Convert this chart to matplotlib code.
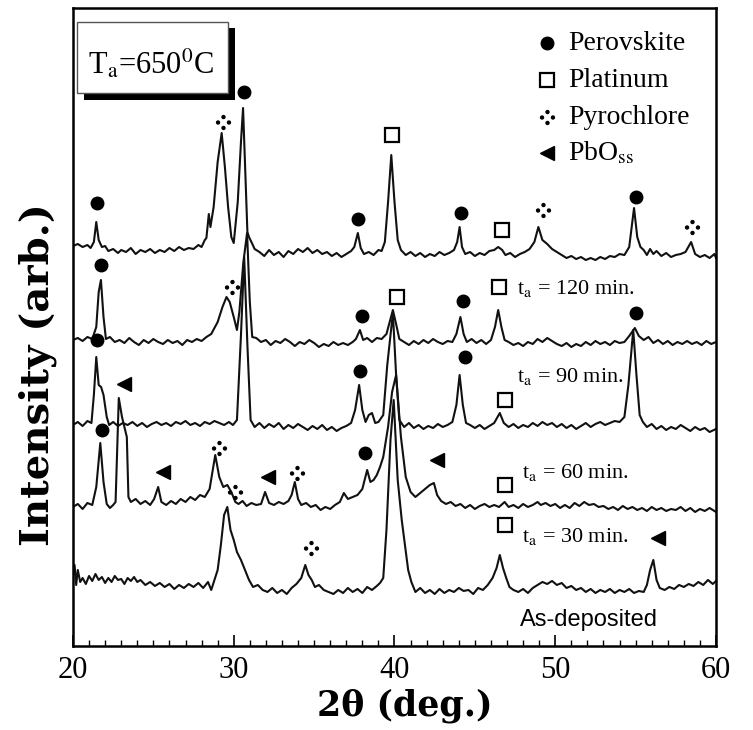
import matplotlib
matplotlib.use("Agg")
import matplotlib.pyplot as plt
from matplotlib.path import Path
from matplotlib.patches import Rectangle
from matplotlib.ticker import MultipleLocator

plt.rcParams["font.family"] = ["Liberation Serif", "DejaVu Serif"]
plt.rcParams["mathtext.fontset"] = "stix"

# XRD traces: (2theta, intensity above own baseline)
trace_120 = [
    (20.0, 6), (20.3, 8), (20.6, 5), (20.9, 7), (21.1, 4), (21.3, 10), (21.45, 30), (21.6, 12),
    (21.8, 5), (22.0, 6), (22.2, 1), (22.5, 3), (22.8, -1), (23.0, 2), (23.3, 0), (23.6, 4),
    (23.9, -2), (24.2, 2), (24.5, 0), (24.8, 3), (25.1, -1), (25.4, 2), (25.7, 0), (26.0, 4),
    (26.3, 1), (26.6, 5), (26.9, 2), (27.2, 4), (27.5, 3), (27.8, 7), (28.0, 5), (28.2, 12),
    (28.3, 14), (28.45, 38), (28.55, 25), (28.75, 45), (29.0, 90), (29.25, 119), (29.45, 85),
    (29.65, 45), (29.85, 15), (30.0, 9), (30.25, 50), (30.45, 110), (30.58, 144), (30.72, 80),
    (30.85, 20), (30.95, 15), (31.1, 10), (31.3, 3), (31.6, 0), (31.9, -4), (32.2, 2), (32.5, -3),
    (32.8, 0), (33.1, -5), (33.4, 1), (33.7, -2), (34.0, 3), (34.3, 0), (34.6, 4), (34.9, -1),
    (35.2, 2), (35.5, -2), (35.8, 0), (36.1, -4), (36.4, -1), (36.7, -5), (37.0, -2), (37.3, 1),
    (37.5, 5), (37.72, 19), (37.9, 4), (38.1, -2), (38.4, 0), (38.7, -3), (39.0, 2), (39.2, 1),
    (39.4, 10), (39.6, 50), (39.8, 97), (40.0, 50), (40.2, 12), (40.4, 2), (40.7, -3), (41.0, 0),
    (41.3, -4), (41.6, -1), (41.9, -5), (42.2, -2), (42.5, -4), (42.8, 0), (43.1, -3), (43.4, -1),
    (43.7, 2), (43.9, 10), (44.05, 25), (44.2, 5), (44.4, -2), (44.7, 0), (45.0, -4), (45.3, -1),
    (45.6, -3), (45.9, 1), (46.2, 2), (46.45, 5), (46.7, 2), (46.9, -3), (47.2, -1), (47.5, -5),
    (47.8, -2), (48.1, 0), (48.4, 3), (48.7, 10), (48.95, 25), (49.2, 12), (49.5, 8), (49.8, 3),
    (50.1, 0), (50.4, -3), (50.7, -6), (51.0, -4), (51.3, -7), (51.6, -5), (51.9, -8), (52.2, -6),
    (52.5, -8), (52.8, -5), (53.1, -7), (53.4, -4), (53.7, -5), (54.0, -2), (54.3, -3), (54.6, 5),
    (54.9, 44), (55.1, 15), (55.3, 5), (55.5, 2), (55.7, -3), (55.9, 3), (56.1, -2), (56.3, 1),
    (56.6, -4), (56.9, -1), (57.2, -5), (57.5, -3), (57.8, -2), (58.1, 0), (58.45, 10), (58.7, -2),
    (59.0, -5), (59.3, -3), (59.6, -6), (59.9, -2), (60.0, -6),
]

trace_90 = [
    (20.0, 2), (20.3, 4), (20.6, 1), (20.9, 5), (21.2, 3), (21.45, 15), (21.6, 50), (21.74, 62),
    (21.9, 25), (22.05, 3), (22.3, 5), (22.6, 0), (22.9, 2), (23.2, -1), (23.5, 4), (23.8, 0),
    (24.1, -3), (24.4, 2), (24.7, -1), (25.0, 3), (25.3, 0), (25.6, -2), (25.9, 2), (26.2, -1),
    (26.5, 1), (26.8, -3), (27.1, 2), (27.4, 0), (27.7, 3), (28.0, 1), (28.3, 5), (28.6, 8),
    (29.0, 20), (29.3, 35), (29.55, 45), (29.75, 40), (30.0, 25), (30.2, 12), (30.35, 30),
    (30.6, 80), (30.83, 109), (31.0, 40), (31.15, 5), (31.4, 4), (31.7, 0), (32.0, 2), (32.3, -3),
    (32.6, 1), (32.9, -1), (33.2, 3), (33.5, 0), (33.8, -4), (34.1, 0), (34.4, -2), (34.7, 2),
    (35.0, -1), (35.3, -5), (35.6, -2), (35.9, -4), (36.2, 0), (36.5, -3), (36.8, -1), (37.1, -3),
    (37.4, 0), (37.6, 3), (37.85, 12), (38.05, 2), (38.3, 4), (38.6, 0), (38.9, 4), (39.2, 3),
    (39.5, 8), (39.7, 20), (39.9, 32), (40.1, 18), (40.3, 3), (40.6, 0), (40.9, -3), (41.2, 1),
    (41.5, -2), (41.8, 2), (42.1, -1), (42.4, 3), (42.7, 0), (43.0, -2), (43.3, 1), (43.6, 0),
    (43.85, 8), (44.1, 25), (44.3, 8), (44.5, 0), (44.8, 3), (45.1, -1), (45.4, 2), (45.7, -2),
    (46.0, 2), (46.25, 15), (46.45, 32), (46.65, 15), (46.85, 2), (47.1, 0), (47.4, -3), (47.7, -1),
    (48.0, -4), (48.3, 0), (48.6, -2), (48.9, 3), (49.2, 0), (49.5, 4), (49.8, 1), (50.1, -2),
    (50.4, -4), (50.7, -1), (51.0, -5), (51.3, -2), (51.6, -4), (51.9, 0), (52.2, -3), (52.5, 1),
    (52.8, -2), (53.1, 0), (53.4, -3), (53.7, 1), (54.0, -1), (54.3, 0), (54.6, 6), (54.95, 14),
    (55.2, 6), (55.5, 2), (55.8, 5), (56.1, -1), (56.4, 2), (56.7, -2), (57.0, 1), (57.3, -3),
    (57.6, 0), (57.9, -2), (58.2, 1), (58.5, -2), (58.8, 0), (59.1, -3), (59.4, 1), (59.7, -2),
    (60.0, 0),
]

trace_60 = [
    (20.0, 0), (20.3, 3), (20.6, -1), (20.9, 4), (21.15, 2), (21.3, 30), (21.45, 68), (21.6, 40),
    (21.75, 38), (21.9, 30), (22.1, 8), (22.25, 0), (22.5, 3), (22.8, -1), (23.1, 2), (23.4, 0),
    (23.7, 3), (24.0, -1), (24.3, 2), (24.6, -2), (24.9, 1), (25.2, 3), (25.5, 0), (25.8, 2),
    (26.1, -1), (26.4, 3), (26.7, 1), (27.0, 4), (27.3, 0), (27.6, 2), (27.9, -1), (28.2, 3),
    (28.5, 1), (28.8, 4), (29.1, 2), (29.4, 0), (29.7, 3), (29.95, 0), (30.2, 5), (30.45, 90),
    (30.65, 168), (30.85, 80), (31.05, 5), (31.3, -2), (31.6, 2), (31.9, -3), (32.2, 1), (32.5, -2),
    (32.8, 2), (33.1, -4), (33.4, 0), (33.7, -3), (34.0, 1), (34.3, -2), (34.6, -5), (34.9, -1),
    (35.2, -4), (35.5, 0), (35.8, -5), (36.1, -2), (36.4, -6), (36.7, -3), (37.0, -1), (37.3, 2),
    (37.55, 15), (37.8, 40), (38.0, 15), (38.2, 3), (38.4, 10), (38.6, 12), (38.8, 2), (39.0, 3),
    (39.3, 10), (39.55, 60), (39.9, 112), (40.1, 50), (40.3, 5), (40.6, -2), (40.9, 2), (41.2, -3),
    (41.5, 0), (41.8, -4), (42.1, -1), (42.4, -3), (42.7, 1), (43.0, -2), (43.3, 0), (43.6, 3),
    (43.85, 20), (44.05, 50), (44.25, 20), (44.45, 2), (44.7, 0), (45.0, -3), (45.3, 0), (45.6, -4),
    (45.9, -1), (46.2, 2), (46.55, 12), (46.8, 2), (47.1, -2), (47.4, 1), (47.7, -3), (48.0, 0),
    (48.3, -2), (48.6, 2), (48.9, -1), (49.2, 3), (49.5, 0), (49.8, 2), (50.1, -2), (50.4, 1),
    (50.7, -3), (51.0, 0), (51.3, -4), (51.6, -1), (51.9, 2), (52.2, -2), (52.5, 1), (52.8, 3),
    (53.1, 0), (53.4, 2), (53.7, 4), (54.0, 3), (54.3, 8), (54.55, 40), (54.85, 95), (55.05, 50),
    (55.25, 10), (55.45, 3), (55.7, -2), (56.0, 1), (56.3, -4), (56.6, -1), (56.9, -5), (57.2, -2),
    (57.5, -4), (57.8, 0), (58.1, -3), (58.4, -6), (58.7, -2), (59.0, -5), (59.3, -3), (59.6, -7),
    (60.0, -4),
]

trace_30 = [
    (20.0, 0), (20.3, 3), (20.6, -2), (20.9, 4), (21.2, 2), (21.45, 20), (21.7, 64), (21.9, 25),
    (22.1, 3), (22.3, -1), (22.5, 2), (22.65, 5), (22.85, 109), (23.05, 90), (23.35, 70),
    (23.45, 10), (23.6, 5), (23.9, 8), (24.2, 3), (24.5, 6), (24.8, 2), (25.05, 8), (25.3, 20),
    (25.5, 5), (25.8, 2), (26.1, 6), (26.4, 3), (26.7, 8), (27.0, 5), (27.3, 10), (27.6, 7),
    (27.9, 12), (28.2, 10), (28.5, 18), (28.85, 52), (29.1, 30), (29.35, 20), (29.6, 22),
    (29.85, 15), (30.1, 5), (30.3, 3), (30.55, 6), (30.8, 1), (31.1, 4), (31.4, 2), (31.7, 3),
    (31.95, 15), (32.2, 4), (32.5, 2), (32.8, 5), (33.1, 3), (33.4, 6), (33.6, 12), (33.8, 25),
    (34.0, 8), (34.2, 2), (34.5, 4), (34.8, 0), (35.1, 2), (35.4, -3), (35.7, 0), (36.0, -2),
    (36.3, 2), (36.6, 5), (36.85, 14), (37.1, 8), (37.4, 10), (37.7, 12), (38.0, 18), (38.3, 37),
    (38.5, 25), (38.7, 27), (38.9, 32), (39.1, 40), (39.3, 50), (39.6, 80), (39.85, 115),
    (40.1, 132), (40.4, 70), (40.7, 30), (41.0, 15), (41.3, 10), (41.6, 14), (41.9, 18), (42.2, 22),
    (42.45, 24), (42.65, 12), (42.9, 6), (43.2, 3), (43.5, 5), (43.8, 1), (44.1, 3), (44.4, -1),
    (44.7, 2), (45.0, -2), (45.3, 1), (45.6, 3), (45.9, 0), (46.2, 2), (46.5, 0), (46.85, 5),
    (47.1, 0), (47.4, 2), (47.7, -1), (48.0, 3), (48.3, 0), (48.6, 2), (48.9, 5), (49.1, 2),
    (49.4, 4), (49.7, 1), (50.0, 3), (50.3, -1), (50.6, 2), (50.9, -1), (51.2, 4), (51.5, 1),
    (51.8, 5), (52.1, 2), (52.4, 3), (52.7, 0), (53.0, 1), (53.3, -2), (53.6, 0), (53.9, -3),
    (54.2, 1), (54.5, -2), (54.8, 0), (55.1, -3), (55.4, -1), (55.7, -4), (56.0, 0), (56.3, -3),
    (56.6, -1), (56.9, -4), (57.2, -2), (57.5, -3), (57.8, 0), (58.1, -4), (58.4, -1), (58.7, -5),
    (59.0, -2), (59.3, -4), (59.6, -1), (60.0, -5),
]

trace_asdep = [
    (20.0, 15), (20.1, 25), (20.2, 5), (20.3, 20), (20.45, 8), (20.6, 12), (20.8, 6), (21.0, 14),
    (21.2, 9), (21.4, 16), (21.6, 10), (21.8, 13), (22.0, 7), (22.2, 12), (22.4, 8), (22.6, 14),
    (22.8, 10), (23.0, 11), (23.2, 6), (23.4, 12), (23.6, 9), (23.8, 13), (24.0, 8), (24.2, 10),
    (24.5, 5), (24.8, 8), (25.1, 4), (25.4, 7), (25.7, 3), (26.0, 6), (26.3, 1), (26.6, 5),
    (26.9, 2), (27.2, 6), (27.5, 3), (27.8, 7), (28.1, 2), (28.4, 8), (28.6, 0), (28.8, 10),
    (29.0, 20), (29.2, 45), (29.4, 75), (29.6, 83), (29.8, 60), (30.0, 50), (30.2, 38), (30.45, 30),
    (30.7, 20), (30.95, 10), (31.2, 3), (31.5, 5), (31.8, 0), (32.1, -2), (32.4, 2), (32.7, -3),
    (33.0, 0), (33.3, -4), (33.6, 2), (33.9, 6), (34.2, 12), (34.45, 25), (34.65, 15), (34.85, 10),
    (35.05, 3), (35.3, 5), (35.6, 0), (35.9, -2), (36.2, -4), (36.5, 0), (36.8, -3), (37.1, 2),
    (37.4, -2), (37.7, 1), (38.0, -3), (38.3, 3), (38.6, 0), (38.9, 4), (39.1, 7), (39.3, 12),
    (39.5, 60), (39.75, 150), (39.95, 190), (40.2, 110), (40.45, 70), (40.65, 45), (40.85, 20),
    (41.05, 8), (41.3, -2), (41.6, 2), (41.9, -3), (42.2, 0), (42.5, -4), (42.8, 1), (43.1, -3),
    (43.4, 0), (43.7, -2), (44.0, 2), (44.3, -1), (44.6, 0), (44.9, -4), (45.2, 2), (45.5, 0),
    (45.8, 5), (46.1, 12), (46.35, 22), (46.55, 35), (46.75, 22), (46.95, 12), (47.15, 3),
    (47.4, 0), (47.7, -2), (48.0, 1), (48.3, -3), (48.6, 2), (48.9, 5), (49.2, 8), (49.5, 6),
    (49.8, 9), (50.1, 5), (50.4, 7), (50.7, 2), (51.0, 4), (51.3, 0), (51.6, 2), (51.9, -2),
    (52.2, 1), (52.5, -3), (52.8, 0), (53.1, -2), (53.4, 1), (53.7, -3), (54.0, 0), (54.3, -2),
    (54.6, 1), (54.9, -3), (55.2, -1), (55.5, -2), (55.7, 5), (55.9, 20), (56.1, 30), (56.3, 10),
    (56.5, 2), (56.8, 0), (57.1, 3), (57.4, 1), (57.7, 5), (58.0, 3), (58.3, 6), (58.6, 4),
    (58.9, 8), (59.2, 5), (59.5, 10), (59.8, 6), (60.0, 9),
]

traces = [trace_120, trace_90, trace_60, trace_30, trace_asdep]
offsets = [395, 305, 222, 140, 57]

# phase markers (2theta, stacked intensity)
perovskite_pts = [(21.49, 444), (30.64, 555), (37.73, 428), (44.14, 434), (55.03, 450),
                  (21.74, 382), (37.98, 331), (44.27, 346), (55.03, 334),
                  (21.49, 307), (37.86, 276), (44.39, 290),
                  (21.8, 217), (38.17, 194)]
platinum_pts = [(39.85, 512), (46.7, 417), (40.16, 350), (46.5, 360),
                (46.88, 247), (46.88, 162), (46.88, 122)]
pyrochlore_pts = [(29.33, 525), (49.25, 437), (58.52, 420), (29.9, 360),
                  (29.09, 199), (33.94, 174), (30.08, 155), (34.81, 99)]
pbo_pts = [(23.15, 263), (25.6, 175), (32.13, 170), (42.65, 187), (56.4, 109)]

sample_labels = [r"t$_{\rm a}$ = 120 min.", r"t$_{\rm a}$ = 90 min.",
                 r"t$_{\rm a}$ = 60 min.", r"t$_{\rm a}$ = 30 min."]
label_pos = [(47.62, 359), (47.62, 270), (47.93, 174), (47.93, 110)]

legend_names = ["Perovskite", "Platinum", "Pyrochlore", r"PbO$_{\rm ss}$"]

# four-dot marker for pyrochlore
dots = [Path.circle(c, 0.4) for c in [(0, 1), (0, -1), (1, 0), (-1, 0)]]
pyro_marker = Path.make_compound_path(*dots)

fig = plt.figure(figsize=(7.53, 7.30), dpi=100)
ax = fig.add_axes([0.0969, 0.1151, 0.854, 0.8739])

for tr, off in zip(traces, offsets):
    xs = [p[0] for p in tr]
    ys = [p[1] + off for p in tr]
    ax.plot(xs, ys, color="#111111", lw=1.5)

styles = [
    (perovskite_pts, dict(marker="o", ms=9, mfc="black", mec="black")),
    (platinum_pts, dict(marker="s", ms=10, mfc="white", mec="black", mew=1.6)),
    (pyrochlore_pts, dict(marker=pyro_marker, ms=11, mfc="black", mec="black", mew=0)),
    (pbo_pts, dict(marker="<", ms=10, mfc="black", mec="black")),
]
for pts, st in styles:
    ax.plot([p[0] for p in pts], [p[1] for p in pts], ls="none", **st)

for txt, (x, y) in zip(sample_labels, label_pos):
    ax.text(x, y, txt, fontsize=16, va="center", ha="left")
ax.text(47.8, 27, "As-deposited", fontsize=17, va="center", ha="left",
        family=["Liberation Sans", "DejaVu Sans"])

# legend drawn by hand
leg_y = [0.945, 0.887, 0.829, 0.773]
for (pts, st), name, yy in zip(styles, legend_names, leg_y):
    ax.plot([0.737], [yy], ls="none", transform=ax.transAxes, clip_on=False, **st)
    ax.text(0.770, yy, name, fontsize=20, va="center", ha="left", transform=ax.transAxes)

# annealing temperature box with shadow
ax.add_patch(Rectangle((0.017, 0.856), 0.235, 0.113, transform=ax.transAxes,
                       facecolor="black", edgecolor="none", zorder=4))
ax.add_patch(Rectangle((0.0062, 0.867), 0.235, 0.111, transform=ax.transAxes,
                       facecolor="white", edgecolor="#555555", lw=1, zorder=5))
ax.text(0.024, 0.897, r"T$_{\rm a}$=650$^{\rm 0}$C", fontsize=22, transform=ax.transAxes,
        va="baseline", ha="left", zorder=6)

ax.set_xlim(20, 60)
ax.set_ylim(1, 639)
ax.set_xticks([20, 30, 40, 50, 60])
ax.xaxis.set_minor_locator(MultipleLocator(1))
ax.set_yticks([])
ax.tick_params(axis="x", which="major", direction="in", length=8, width=1.2,
               labelsize=22, pad=7)
ax.tick_params(axis="x", which="minor", direction="in", length=4, width=1)
for s in ax.spines.values():
    s.set_linewidth(1.8)

fig.text(405 / 753, 1 - 706 / 730, "2θ (deg.)", fontsize=25, fontweight="bold",
         family=["DejaVu Serif"], ha="center", va="center")
fig.text(38 / 753, 1 - 375 / 730, "Intensity (arb.)", fontsize=29, fontweight="bold",
         family=["DejaVu Serif"], ha="center", va="center", rotation=90)

fig.savefig("out.png", dpi=100)
